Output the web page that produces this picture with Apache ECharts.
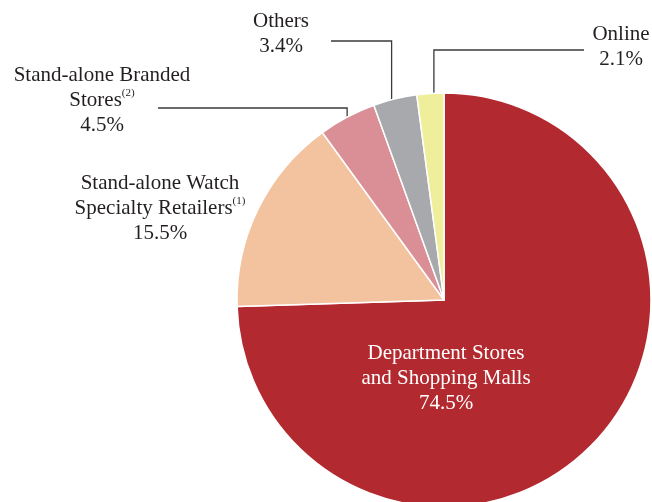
<!DOCTYPE html>
<html>
<head>
<meta charset="utf-8">
<script src="https://cdn.jsdelivr.net/npm/echarts@6/dist/echarts.min.js"></script>
<style>html,body{margin:0;padding:0;background:#fff;}#c{width:652px;height:502px;}</style>
</head>
<body>
<div id="c"></div>
<script>
var categories = ['Department Stores and Shopping Malls', 'Stand-alone Watch Specialty Retailers', 'Stand-alone Branded Stores', 'Others', 'Online'];
var values = [74.5, 15.5, 4.5, 3.4, 2.1];
var labelTexts = [
  '{w|Department Stores}\n{w|and Shopping Malls}\n{w|74.5%}',
  '{t|Stand-alone Watch}\n{t|Specialty Retailers}{sup|(1)}\n{t|15.5%}',
  '{t|Stand-alone Branded}\n{t|Stores}{sup|(2)}\n{t|4.5%}',
  '{t|Others}\n{t|3.4%}',
  '{t|Online}\n{t|2.1%}'
];
var colors = ['#B22A2F', '#F3C3A0', '#DA8F97', '#A8A9AD', '#EFEE9A'];

var CX = 444, CY = 300, R = 207;
var total = values.reduce(function (a, b) { return a + b; }, 0);
// where along its slice (0..1) each leader line starts
function edgePoint(i, along) {
  var cum = 0;
  for (var k = 0; k < i; k++) cum += values[k];
  var a = (cum + values[i] * along) / total * 2 * Math.PI;
  return [CX + R * Math.sin(a), CY - R * Math.cos(a)];
}
// label anchor positions and leader-line bends (layout only)
var layout = [
  { x: 446, y: 378 },
  { x: 160, y: 208 },
  { x: 102, y: 100, lineY: 108, lineX: 158, along: 0.5 },
  { x: 281, y: 34, lineY: 41, lineX: 331, along: 0.42 },
  { x: 621, y: 47, lineY: 50, lineX: 584, along: 0.63 }
];

var font = '"Liberation Serif", "Times New Roman", serif';
var rich = {
  t: { fontFamily: font, fontSize: 21, lineHeight: 25, color: '#231F20' },
  w: { fontFamily: font, fontSize: 21, lineHeight: 25, color: '#FFFFFF' },
  sup: { fontFamily: font, fontSize: 11, lineHeight: 13, verticalAlign: 'top', color: '#231F20' }
};

var data = categories.map(function (c, i) {
  return {
    name: c,
    value: values[i],
    itemStyle: { color: colors[i] },
    label: { formatter: labelTexts[i] },
    labelLine: { show: i >= 2 }
  };
});

var chart = echarts.init(document.getElementById('c'), null, { renderer: 'canvas' });
chart.setOption({
  animation: false,
  backgroundColor: '#fff',
  series: [{
    type: 'pie',
    center: [CX, CY],
    radius: [0, R],
    startAngle: 90,
    clockwise: true,
    avoidLabelOverlap: false,
    itemStyle: { borderColor: '#fff', borderWidth: 1.5 },
    label: { show: true, position: 'outside', align: 'center', rich: rich },
    labelLine: { show: true, lineStyle: { color: '#3a3a3a', width: 1.3 } },
    emphasis: { disabled: true },
    data: data,
    labelLayout: function (p) {
      var i = p.dataIndex;
      var L = layout[i];
      var res = { x: L.x, y: L.y, align: 'center', verticalAlign: 'middle', hideOverlap: false, moveOverlap: false };
      if (L.lineY !== undefined) {
        var e = edgePoint(i, L.along);
        res.labelLinePoints = [e, [e[0], L.lineY], [L.lineX, L.lineY]];
      }
      return res;
    }
  }]
});
</script>
</body>
</html>
